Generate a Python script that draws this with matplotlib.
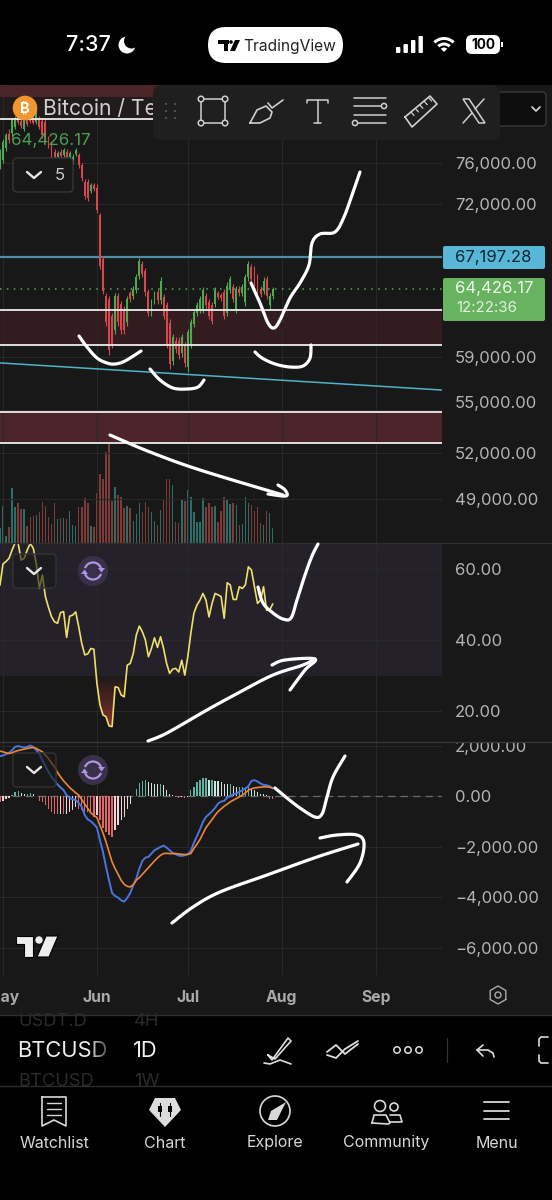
import numpy as np
import matplotlib
matplotlib.use("Agg")
import matplotlib.pyplot as plt
from matplotlib.patches import Rectangle, FancyBboxPatch, Circle, Polygon, Wedge, Arc
from matplotlib.transforms import ScaledTranslation

plt.rcParams['font.family'] = ['Inter', 'Noto Sans', 'DejaVu Sans']

# ---------- data ----------
days = list(range(-1, 90))   # days since 1 May
opens = [75600,76300,77500,78900,79000,79700,80700,80300,79500,80600,80800,80700,80200,80500,80300,80200,78500,78000,77100,76600,77100,76800,77100,76600,76100,76900,76800,75800,74100,74100,73300,73850,73600,71000,67000,63900,63600,62200,61100,63900,63200,62800,61700,64100,63900,64400,65600,66600,66000,64200,62500,63450,64200,63500,63750,63100,61650,58650,60250,60250,59250,59900,58200,59950,61550,62500,62750,62750,63900,63350,63100,63200,64100,63950,64200,62500,64400,64600,62800,64450,64150,63350,65450,66300,66150,65450,64450,64300,65300,63100,63900]
closes = [77100,78100,78800,78300,80400,80500,80200,79800,80400,80000,80300,80100,81200,79700,78800,78500,77800,76800,76600,77000,76700,77300,76400,77000,76600,77300,75800,74500,72800,72600,73850,73500,71500,66400,64300,61700,59500,60000,63900,61700,61100,61100,63600,63600,64500,65450,66900,65700,64200,62500,63350,64100,63500,65150,62250,60000,58400,60500,59600,59150,60500,58500,60900,61700,62550,63100,63650,64350,63100,62200,61850,64350,63800,63700,62250,64750,65300,63650,64450,64150,64600,65450,66600,65300,64750,64300,64050,65150,63900,63900,64426]
highs = [77370,78400,79080,79420,80640,80820,81000,80460,80640,80820,81000,81000,81530,80820,80640,80460,78730,78220,77370,77200,77370,77540,77370,77200,76860,77540,77030,76030,74400,74400,74070,74070,73910,71220,67300,64160,63900,62490,64160,64160,63490,63040,63900,64320,64700,65720,67150,66870,66290,64460,63600,64320,64460,65440,64010,63360,61950,60790,60530,60530,60790,60150,61150,61950,62820,63360,63900,64600,64160,63600,63360,64600,64320,64160,64460,65020,65580,64880,64700,64700,64880,65720,66870,66580,66430,65720,64700,65440,65580,64160,64600]
lows = [75370,76030,77200,78050,78730,79420,79940,79590,79250,79770,80110,79940,79940,79420,78560,78220,77540,76530,76370,76370,76530,76530,76200,76370,75870,76700,75540,74230,72470,72320,73110,73270,71220,66150,64010,61430,59110,59640,60790,61430,60790,60790,61430,63360,63600,64160,65300,65440,63900,62220,62220,63220,63220,63220,61950,59640,58050,58350,59320,58850,58980,58220,57840,59640,61300,62220,62490,62490,62820,61950,61550,62960,63600,63490,61950,62220,64160,63360,62490,63900,63900,63040,65160,65020,64460,64010,63770,64010,63600,62820,63600]
volumes = [45,112,20,48,165,109,119,102,102,52,77,82,84,94,124,111,79,57,120,72,75,75,72,97,55,52,107,109,135,120,52,47,151,207,191,272,342,127,169,145,137,105,112,105,67,87,119,92,122,109,92,65,55,100,131,193,191,174,64,59,130,127,160,137,92,62,62,135,107,119,109,112,62,97,137,131,117,121,115,55,57,137,119,115,97,109,59,55,95,91,45]
rsi = [55.5,61.4,62.1,63,65.3,67.4,67.2,62.5,63,65.3,67.2,65.8,61.4,54.5,58.3,52.2,49.2,46.6,45.1,44.7,47.7,48,40.7,46.7,47,47.9,43.7,39,35.8,36.1,37.6,37.4,27.8,21.7,18.9,18.4,15.8,15.6,26.8,26.6,24.5,24,32.9,33.4,36.2,41.4,43.9,42.3,40,35.3,37.6,40.6,37.9,40.9,37.6,33.4,30.6,31.8,32,31,34.3,30.1,35.3,41.9,47.5,49.8,51.2,53.1,51.2,46.5,50.3,53.1,52.7,52.2,46.1,56.1,55.5,51.4,51.4,55,54.5,55.5,60.6,59.7,55,50.3,51.2,55,48.4,48.4,50.1]
macd = [1584,1610,1663,1716,1822,1954,1980,1954,1927,1954,2006,1954,1822,1690,1426,1188,964,766,607,462,343,238,40,-66,-119,-158,-264,-422,-752,-924,-990,-1109,-1241,-1742,-2204,-2798,-3326,-3828,-3947,-4013,-4118,-4171,-4026,-3828,-3524,-3260,-2864,-2561,-2429,-2402,-2270,-2138,-2072,-2006,-1954,-2033,-2138,-2244,-2297,-2350,-2363,-2336,-2297,-2165,-1848,-1584,-1320,-1016,-818,-713,-594,-462,-290,-211,-185,-53,0,79,106,172,238,304,396,607,634,581,502,449,436,396,304]
signal = [1782,1756,1716,1690,1716,1769,1808,1835,1861,1888,1914,1927,1888,1822,1756,1624,1492,1320,1162,937,766,607,475,343,238,132,40,-132,-317,-488,-660,-752,-845,-1148,-1452,-1808,-2204,-2600,-2864,-3089,-3326,-3485,-3564,-3590,-3498,-3326,-3221,-3089,-2957,-2825,-2693,-2561,-2442,-2336,-2270,-2257,-2270,-2270,-2270,-2284,-2297,-2310,-2297,-2270,-2072,-1901,-1716,-1478,-1241,-1082,-924,-752,-607,-502,-396,-317,-224,-158,-92,-26,40,132,238,290,330,343,356,370,370,356,330]
hist = [-224,-185,-106,-53,40,172,211,145,79,106,132,106,26,-185,-224,-356,-488,-620,-686,-713,-686,-713,-686,-620,-554,-422,-488,-554,-620,-620,-620,-818,-752,-950,-1241,-1412,-1544,-1610,-1346,-1148,-950,-818,-488,-290,0,304,528,607,634,568,528,502,475,475,436,264,106,40,-26,-53,-26,-53,-26,238,370,568,660,726,739,634,634,620,607,568,502,475,502,409,370,370,370,370,396,304,238,172,106,79,40,-92,-119]

month_days = [0, 31, 61, 92, 123]
month_labels = ["May", "Jun", "Jul", "Aug", "Sep"]
price_ticks = [76000, 72000, 59000, 55000, 52000, 49000]
rsi_ticks = [60, 40, 20]
macd_ticks = [2000, 0, -2000, -4000, -6000]
zone_low = [59900, 62720]
zone_mid = [52700, 54900]
zone_top = [80500, 84160]
zone_strip = [82850, 84160]
resistance = 67197.28
last_price = 64426.17
trend_days = [-1, 145]
trend_prices = [58520, 56480]

# ---------- hand-drawn strokes (screen pixels) ----------
strokes = [
    [(79,336),(87,347),(97,358),(107,363),(115,364),(125,361),(141,351)],
    [(150,369),(160,380),(173,388),(187,389),(198,387),(204,380)],
    [(255,352),(262,358),(275,364),(290,367),(303,366),(310,358),(311,345)],
    [(251,283),(260,303),(268,323),(274,328),(280,320),(290,298),(300,283),(309,265),(312,243),(320,234),(335,232),(344,217),(352,195),(360,172)],
    [(110,435),(150,452),(200,470),(283,495)],
    [(278,485),(285,490),(286,496),(268,494)],
    [(258,587),(263,603),(273,613),(283,619),(291,618),(297,600),(305,575),(312,556),(318,544)],
    [(148,741),(167,733),(207,710),(240,692),(273,675),(303,665),(315,659)],
    [(272,665),(285,660),(315,659),(305,670),(290,690)],
    [(275,788),(287,798),(300,808),(315,817),(322,814),(327,797),(333,777),(345,756)],
    [(172,923),(193,907),(220,892),(267,875),(317,857),(358,844)],
    [(320,838),(337,835),(357,835),(364,843),(360,863),(347,882)],
]

W, H = 552, 1200
BG = '#181818'
GRID = '#282828'
TICK = '#b4b4b4'
XL = (-0.99, 144.9)
px = lambda top, bot: [0, 1 - bot / H, 442 / W, (bot - top) / H]

def smooth(pts, n=12):
    p = np.array([pts[0]] + list(pts) + [pts[-1]], float)
    out = []
    for i in range(1, len(p) - 2):
        for t in np.linspace(0, 1, n, endpoint=False):
            out.append(0.5 * (2*p[i] + (p[i+1]-p[i-1])*t + (2*p[i-1]-5*p[i]+4*p[i+1]-p[i+2])*t*t
                              + (3*p[i]-p[i-1]-3*p[i+1]+p[i+2])*t**3))
    out.append(p[-2])
    return np.array(out)

fig = plt.figure(figsize=(W/100, H/100), dpi=100, facecolor='black')
fig.add_artist(Rectangle((0, 1-1015/H), 1, 930/H, transform=fig.transFigure, color=BG, zorder=-5))

d = np.array(days)

def style(ax, yticks, labels, fs=12):
    ax.set_xlim(*XL)
    ax.set_facecolor('none')
    for s in ax.spines.values():
        s.set_visible(False)
    ax.set_xticks(month_days)
    ax.set_xticklabels([])
    ax.tick_params(axis='x', length=0)
    ax.yaxis.tick_right()
    ax.set_yticks(yticks)
    ax.set_yticklabels(labels)
    ax.minorticks_off()
    ax.tick_params(axis='y', length=0, pad=9.4, labelcolor=TICK, labelsize=fs)
    ax.grid(True, color=GRID, lw=0.8)
    ax.set_axisbelow(True)

# volume
ax_v = fig.add_axes(px(85, 543), zorder=1)
ax_v.set_xlim(*XL); ax_v.set_ylim(0, 1374); ax_v.axis('off')
up = np.array(closes) >= np.array(opens)
ax_v.bar(d, volumes, width=0.5, color=['#2c6f69' if u else '#7d3b3a' for u in up])

# price
ax_p = fig.add_axes(px(85, 543), zorder=2)
ax_p.set_yscale('log')
ax_p.set_ylim(46245, 84160)
style(ax_p, price_ticks, [f"{v:,.2f}" for v in price_ticks])
ax_p.axhspan(*zone_top, color='#211b1c', lw=0, zorder=0.5)
ax_p.axhspan(*zone_strip, color='#4a2528', lw=0, zorder=0.6)
ax_p.axhspan(*zone_low, color='#331c20', lw=0, zorder=0.5)
ax_p.axhspan(*zone_mid, color='#4c2328', lw=0, zorder=0.5)
ax_p.plot(trend_days, trend_prices, color='#4fb3c9', lw=1.1, zorder=1.5)
ax_p.axhline(resistance, color='#4c8fa6', lw=1.6, zorder=1.5)
ax_p.axhline(last_price, color='#5aa85a', lw=1.1, ls=(0, (1, 3.5)), zorder=1.5)
colr = ['#4fa953' if u else '#d6474e' for u in up]
ax_p.vlines(d, lows, highs, color=colr, lw=0.8, zorder=2)
o, c = np.array(opens), np.array(closes)
ax_p.bar(d, np.abs(c-o), bottom=np.minimum(o, c), width=0.62, color=colr, zorder=2)
for val in zone_low + [zone_mid[0], zone_mid[1], zone_top[0]]:
    ax_p.axhline(val, color='#ececec', lw=1.3, zorder=3)
for lab, v in zip(ax_p.get_yticklabels(), price_ticks):
    if v == 55000:
        lab.set_transform(lab.get_transform() + ScaledTranslation(0, 8/100, fig.dpi_scale_trans))

# RSI
ax_r = fig.add_axes(px(543, 743), zorder=3)
ax_r.set_ylim(11, 67.3)
style(ax_r, rsi_ticks, [f"{v:.2f}" for v in rsi_ticks])
ax_r.axhspan(30, 70, color='#24212b', lw=0, zorder=0.5)
g = np.zeros((64, 2, 4))
g[..., :3] = np.array([0x8a, 0x33, 0x30]) / 255
g[..., 3] = np.linspace(0.95, 0.05, 64)[:, None]
im = ax_r.imshow(g, extent=[XL[0], XL[1], 15, 30], origin='lower', aspect='auto', zorder=1)
ax_r.set_xlim(*XL); ax_r.set_ylim(11, 67.3)
poly = ax_r.fill_between(d, rsi, 30, where=np.array(rsi) < 31, color='none', interpolate=True)
im.set_clip_path(poly.get_paths()[0], transform=ax_r.transData)
ax_r.plot(d, rsi, color='#efe06a', lw=1.2, zorder=2)

# MACD
ax_m = fig.add_axes(px(743, 975), zorder=3)
ax_m.set_ylim(-7073, 2105)
style(ax_m, macd_ticks, [f"{v:,.2f}".replace('-', '\u2212') for v in macd_ticks])
ax_m.axhline(0, color='#6a6a6a', lw=0.9, ls=(0, (6, 4)), zorder=1)
h = np.array(hist)
hc = []
for i, v in enumerate(h):
    prev = h[i-1] if i else v
    if v >= 0:
        hc.append('#5fb3a3' if v >= prev else '#cfe6e0')
    else:
        hc.append('#e0666a' if v <= prev else '#f4d3d3')
ax_m.bar(d, h, width=0.42, color=hc, zorder=2)
ax_m.plot(d, macd, color='#4a74e0', lw=1.4, zorder=3)
ax_m.plot(d, signal, color='#ef8535', lw=1.2, zorder=4)
ax_m.set_xticklabels(month_labels)
ax_m.tick_params(axis='x', pad=10.5, labelcolor='#a8a8a8', labelsize=11.3)
for lab in ax_m.get_xticklabels():
    lab.set_fontweight('bold')

# ---------- UI overlay ----------
ui = fig.add_axes([0, 0, 1, 1], zorder=10)
ui.set_xlim(0, W); ui.set_ylim(H, 0); ui.axis('off'); ui.patch.set_visible(False)

for pts in strokes:
    s = smooth(pts)
    ui.plot(s[:, 0], s[:, 1], color='white', lw=2.3, solid_capstyle='round', solid_joinstyle='round', zorder=5)

def txt(x, y, s, size, color='white', ha='center', weight='normal', **k):
    ui.text(x, y, s, fontsize=size, color=color, ha=ha, va='center', fontweight=weight, **k)

def line(xs, ys, color='#e6e6e6', lw=1.2, **k):
    ui.plot(xs, ys, color=color, lw=lw, solid_capstyle='round', solid_joinstyle='round', **k)

def box(x, y, w, h, fc, ec='none', r=4, lw=1, z=3):
    ui.add_patch(FancyBboxPatch((x, y), w, h, boxstyle=f"round,pad=0,rounding_size={r}", fc=fc, ec=ec, lw=lw, zorder=z))

# panel separators / clip of the 2,000.00 label
ui.add_patch(Rectangle((443, 732), 109, 10, fc=BG, ec='none', zorder=1))
ui.plot([0, W], [742, 742], color='#3a3a3a', lw=0.9, zorder=2)
ui.plot([0, W], [543, 543], color='#2e2e2e', lw=0.9, zorder=0.5)
ui.plot([0, W], [1015, 1015], color='#2e2e2e', lw=0.9)

# status bar
txt(66, 45, "7:37", 15.5, ha='left', weight='medium')
ui.add_patch(Circle((127, 45), 8.5, fc='white', zorder=2))
ui.add_patch(Circle((131.5, 41), 7.5, fc='black', zorder=3))
box(208, 27, 135, 36, 'white', r=18)
ui.add_patch(Rectangle((218, 40), 11, 3.5, fc='black', zorder=4))
ui.add_patch(Rectangle((223.5, 40), 4, 11, fc='black', zorder=4))
ui.add_patch(Circle((231, 42), 1.8, fc='black', zorder=4))
ui.add_patch(Polygon([(235,40),(240,40),(235,51),(230,51)], fc='black', zorder=4))
txt(290, 46, "TradingView", 11.2, color='#222222', zorder=4)
for bx, bh in zip((396, 403.5, 411, 418.5), (6, 9, 13, 17)):
    ui.add_patch(FancyBboxPatch((bx, 53-bh), 4.4, bh, boxstyle="round,pad=0,rounding_size=1", fc='white', ec='none'))
for rr, wd in ((15, 3), (9.5, 3), (4.5, 4.5)):
    ui.add_patch(Wedge((444, 52), rr, 225, 315, width=wd, fc='white', ec='none'))
box(466, 35, 34, 19, 'white', r=6)
ui.add_patch(Rectangle((501, 42), 1.6, 5, fc='white'))
txt(483, 45, "100", 9.8, color='black', weight='bold', zorder=4)

# legend
ui.add_patch(Circle((25, 108), 12.3, fc='#f0962e', zorder=2))
txt(25, 108, "\u20bf", 10.5, weight='bold', zorder=3)
txt(43, 109, "Bitcoin / Te", 15.2, color='#cfcfcf', ha='left', zorder=3)
txt(11, 140, "64,426.17", 12.2, color='#4f9d52', ha='left', zorder=3)
box(13, 158, 60, 34, '#181818', ec='#363636', r=4)
line([27, 34, 41], [172, 178, 172], lw=1.7, zorder=5)
txt(60, 176, "5", 12, color='#cccccc', zorder=5)

# dropdown + toolbar
box(492, 92, 54, 34, '#0e0e0e', ec='#3a3a3a', r=4)
line([532, 536, 540], [107, 111, 107], color='#cccccc', lw=1.3, zorder=5)
box(153, 85, 347, 55, '#1f1f1f', r=9, z=4)
I = '#cfcfcf'
for xx in (166, 175):
    for yy in (104, 111, 118):
        ui.add_patch(Circle((xx, yy), 1.1, fc='#555555', zorder=5))
ui.add_patch(Rectangle((201, 99), 24, 24, fc='none', ec=I, lw=1.1, zorder=5))
for cx, cy in ((201, 99), (225, 99), (201, 123), (225, 123)):
    ui.add_patch(Circle((cx, cy), 2.8, fc='#1f1f1f', ec=I, lw=1.1, zorder=6))
line([250, 257, 266, 272, 270, 260, 250], [123, 110, 106, 112, 118, 123, 123], color=I, zorder=5)
line([268, 272, 283], [103, 108, 100], color=I, zorder=5)
line([307, 307, 328, 328], [103, 99.5, 99.5, 103], color=I, lw=1.1, zorder=5)
line([317.5, 317.5], [99.5, 123], color=I, lw=1.1, zorder=5)
line([314, 321], [123, 123], color=I, lw=1.1, zorder=5)
for yy, x0, x1 in ((97.5, 354, 386), (106, 354, 381), (115, 354, 386), (123, 358, 386)):
    line([x0, x1], [yy, yy], color=I, lw=1.1, zorder=5)
ui.add_patch(Circle((384, 106), 2.6, fc='none', ec=I, lw=1.1, zorder=5))
ui.add_patch(Circle((355, 123), 2.6, fc='none', ec=I, lw=1.1, zorder=5))
line([405, 430, 437, 412, 405], [117, 96, 104, 127, 117], color=I, zorder=5)
for a in range(5):
    line([411+a*4.4, 414+a*4.4], [112-a*3.6, 115.5-a*3.6], color=I, lw=0.9, zorder=5)
ui.add_patch(Polygon([(463,99),(469,99),(485,123),(479,123)], fc='none', ec=I, lw=1.1, zorder=5))
line([484, 475], [99, 109], color=I, lw=1.1, zorder=5)
line([472, 463], [113, 123], color=I, lw=1.1, zorder=5)

# price labels
box(443, 246, 102, 23, '#58b6d6', r=2)
txt(455, 257.5, "67,197.28", 12, color='#0c2733', ha='left', zorder=5)
box(443, 278, 102, 43, '#68b35f', r=2)
txt(455, 289, "64,426.17", 12, color='#eef8ec', ha='left', zorder=5)
txt(456, 308, "12:22:36", 10.8, color='#e3f3e0', ha='left', zorder=5)

# indicator buttons
def chevron_box(x, y):
    box(x, y, 43, 34, '#18181899', ec='#333333', r=4)
    line([x+14, x+21, x+28], [y+14, y+20, y+14], lw=1.7, zorder=5)
def sync(x, y):
    ui.add_patch(Circle((x, y), 15, fc='#3a3047', zorder=3))
    ui.add_patch(Arc((x, y), 17, 17, theta1=200, theta2=340, ec='#b094e6', lw=1.6, zorder=4))
    ui.add_patch(Arc((x, y), 17, 17, theta1=20, theta2=160, ec='#b094e6', lw=1.6, zorder=4))
    ui.add_patch(Polygon([(x+5,y-3),(x+12,y-3),(x+8.5,y+1.5)], fc='#b094e6', zorder=4))
    ui.add_patch(Polygon([(x-12,y+3),(x-5,y+3),(x-8.5,y-1.5)], fc='#b094e6', zorder=4))
chevron_box(13, 554); sync(93, 571)
chevron_box(13, 753); sync(93, 770)

# tv logo
for poly_pts in ([(16,936),(33,936),(33,957),(24,957),(24,944),(16,944)], [(46,936),(58,936),(49,957),(37,957)]):
    ui.add_patch(Polygon(poly_pts, fc='#eeeeee', ec='black', lw=0.8, zorder=5))
ui.add_patch(Circle((39, 940), 3.7, fc='#eeeeee', zorder=5))

# settings hexagon
hx = 498 + 9*np.cos(np.radians(np.arange(30, 391, 60)))
hy = 995 + 9*np.sin(np.radians(np.arange(30, 391, 60)))
line(hx, hy, color='#aaaaaa', lw=1)
ui.add_patch(Circle((498, 995), 3, fc='none', ec='#aaaaaa', lw=1))

# bottom bar
DIM = '#2b2b2b'
txt(18, 1021, "USDT.D", 13.2, color=DIM, ha='left')
txt(134, 1021, "4H", 13.2, color=DIM, ha='left')
txt(17.5, 1051, "BTCUSD", 15.8, ha='left', color='#eeeeee')
grad = np.zeros((2, 32, 4)); grad[..., 3] = np.linspace(0, 0.85, 32)
ui.imshow(grad, extent=[88, 112, 1062, 1038], aspect='auto', zorder=5)
ui.set_xlim(0, W); ui.set_ylim(H, 0)
txt(133, 1051, "1D", 15.8, ha='left', color='#eeeeee')
txt(18, 1081, "BTCUSD", 13.2, color=DIM, ha='left')
txt(134, 1081, "1W", 13.2, color=DIM, ha='left')
# pen
P = '#dddddd'
line([268, 272, 288, 291, 275, 268], [1055, 1060, 1038, 1041, 1059, 1055], color=P)
line([264, 270, 280, 291], [1063, 1064, 1060, 1064], color=P)
# trend icon
line([327, 336, 345, 358], [1052, 1045, 1054, 1044], color=P, lw=1.3)
line([327, 336, 345, 358], [1055, 1058, 1049, 1041], color=P, lw=1.3)
for xx in (397, 408, 419):
    ui.add_patch(Circle((xx, 1050), 3.2, fc='none', ec=P, lw=1.1))
line([447, 447], [1038, 1062], color='#333333', lw=0.9)
line([483, 477, 483], [1045, 1050, 1056], color=P)
line([477, 488, 493, 494], [1050, 1050, 1053, 1057], color=P)
line([548, 541, 539, 539], [1037, 1037, 1039, 1046], color=P)
line([539, 539, 541, 548], [1055, 1061, 1063, 1063], color=P)
ui.plot([0, W], [1086, 1086], color='#2c2c2c', lw=1)

# tab bar
tabs = [(54, "Watchlist"), (165, "Chart"), (275, "Explore"), (386, "Community"), (497, "Menu")]
for x, name in tabs:
    txt(x, 1143, name, 11.5, color='#d8d8d8')
T = '#d8d8d8'
line([42, 42, 54, 66, 66, 42], [1097, 1126, 1120, 1126, 1097, 1097], color=T)
for yy in (1103, 1109, 1115):
    line([47, 61], [yy, yy], color=T, lw=1)
ui.add_patch(Polygon([(155,1098),(175,1098),(181,1110),(165,1127),(149,1110)], fc='#dddddd', ec='none'))
for xx in (160, 170):
    line([xx, xx], [1103, 1116], color='black', lw=0.8, zorder=5)
    ui.add_patch(Rectangle((xx-2, 1106), 4, 6, fc='black', zorder=5))
ui.add_patch(Circle((275, 1111), 15, fc='none', ec=T, lw=1.2))
ui.add_patch(Polygon([(286,1102),(277,1120),(268,1120),(271,1111)], fc=T, ec='none'))
ui.add_patch(Circle((380, 1106), 5.5, fc='none', ec=T, lw=1.2))
ui.add_patch(Circle((394, 1107), 4, fc='none', ec=T, lw=1.2))
line([372, 374, 386, 390, 388, 372], [1123, 1115, 1115, 1123, 1124, 1123], color=T)
line([390, 400, 402, 390], [1115, 1115, 1122, 1122], color=T)
for yy in (1102, 1111, 1119):
    line([484, 509], [yy, yy], color=T, lw=1.3)

assert all(len(a) == len(days) for a in (opens, closes, highs, lows, volumes, rsi, macd, signal, hist))
fig.savefig('out.png', dpi=100, facecolor='black')
